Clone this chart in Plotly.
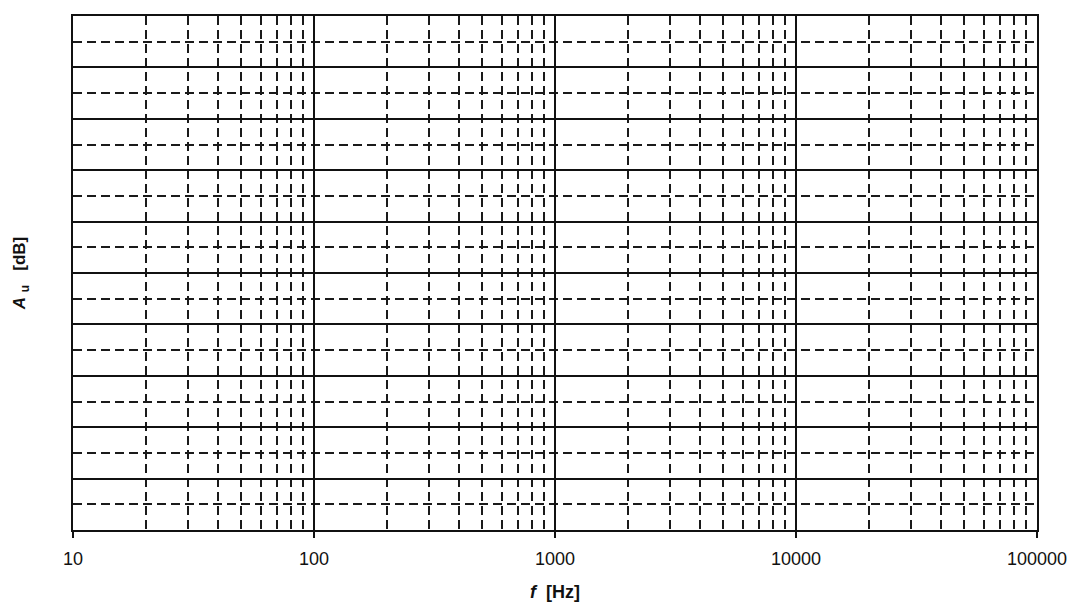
import plotly.graph_objects as go

# Frequency axis (log scale), decades and intermediate grid positions
freq_major = [10, 100, 1000, 10000, 100000]
freq_labels = ["10", "100", "1000", "10000", "100000"]
freq_minor = [m * d for d in [10, 100, 1000, 10000] for m in range(2, 10)]

# Gain axis: ten grid rows, with a dashed line half-way through each
gain_range = [0, 10]
gain_major_step = 1
gain_minor_step = 0.5

fig = go.Figure()
# Invisible trace so both axes are established
fig.add_trace(go.Scatter(x=[freq_major[0], freq_major[-1]], y=gain_range,
                         mode="markers", marker=dict(opacity=0),
                         hoverinfo="skip", showlegend=False))

line_col = "#111111"
dash_col = "#1a1a1a"
fig.update_layout(
    width=1073, height=608,
    margin=dict(l=73, r=36, t=16, b=78),
    paper_bgcolor="white", plot_bgcolor="white",
    font=dict(family="Liberation Sans, Arial, sans-serif", size=18, color="#111111"),
    showlegend=False,
    xaxis=dict(
        type="log", range=[1, 5], automargin=False,
        tickmode="array", tickvals=freq_major, ticktext=freq_labels,
        ticks="outside", ticklen=6, tickwidth=1.5, tickcolor=line_col,
        showgrid=True, gridcolor=line_col, gridwidth=1.5,
        minor=dict(tickmode="array", tickvals=freq_minor, showgrid=True,
                   gridcolor=dash_col, gridwidth=1.5, griddash="9px,5px",
                   ticks=""),
        showline=True, linecolor=line_col, linewidth=2, mirror=True,
        zeroline=False, ticklabelstandoff=5,
        title=dict(text="<b><i>f</i>  [Hz]</b>", standoff=18,
                   font=dict(size=18)),
    ),
    yaxis=dict(
        range=gain_range, dtick=gain_major_step, tick0=0, automargin=False,
        showticklabels=False, ticks="",
        showgrid=True, gridcolor=line_col, gridwidth=1.5,
        minor=dict(dtick=gain_minor_step, tick0=0, showgrid=True,
                   gridcolor=dash_col, gridwidth=1.5, griddash="9px,5px",
                   ticks=""),
        showline=True, linecolor=line_col, linewidth=2, mirror=True,
        zeroline=False,
        title=dict(text="<b><i>A</i> <sub>u</sub>   [dB]</b>", standoff=41,
                   font=dict(size=17)),
    ),
)

fig.write_html("out.html")
